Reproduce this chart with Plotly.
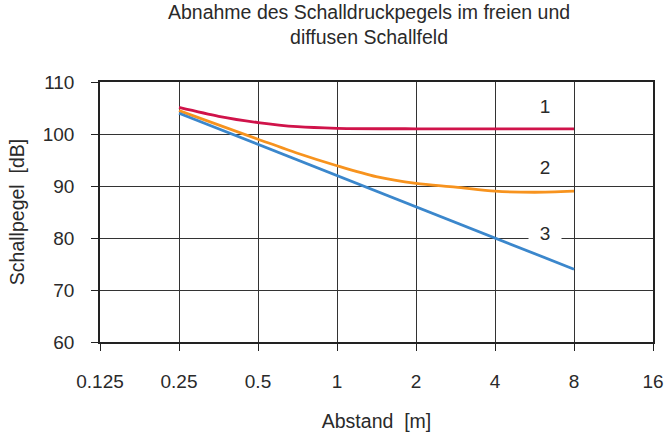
import plotly.graph_objects as go
import math

# Data
x1 = [0.25, 0.354, 0.5, 0.707, 1, 2, 4, 8]
y1 = [105.1, 103.4, 102.2, 101.4, 101.1, 101.0, 101.0, 101.0]

x2 = [0.25, 0.5, 0.707, 1, 1.41, 2, 2.83, 4, 5.66, 8]
y2 = [104.5, 99.0, 96.3, 93.9, 91.8, 90.5, 89.8, 89.0, 88.8, 89.0]

x3 = [0.25, 0.5, 1, 2, 4, 8]
y3 = [104, 98, 92, 86, 80, 74]

x_ticks = [0.125, 0.25, 0.5, 1, 2, 4, 8, 16]
x_ticktext = ["0.125", "0.25", "0.5", "1", "2", "4", "8", "16"]
y_ticks = [60, 70, 80, 90, 100, 110]

curve_labels = ["1", "2", "3"]
label_x = [6.2, 6.2, 6.2]
label_y = [105.2, 93.6, 80.8]

colors = ["#D0134A", "#F7931E", "#3B87CC"]

FONT = "Liberation Sans, Arial, sans-serif"
TXT = "#2a2a2a"

fig = go.Figure()
fig.add_trace(go.Scatter(x=x1, y=y1, mode="lines",
                         line=dict(color=colors[0], width=2.8, shape="spline", smoothing=0.8)))
fig.add_trace(go.Scatter(x=x2, y=y2, mode="lines",
                         line=dict(color=colors[1], width=2.8, shape="spline", smoothing=0.8)))
fig.add_trace(go.Scatter(x=x3, y=y3, mode="lines",
                         line=dict(color=colors[2], width=2.8)))

for i, t in enumerate(curve_labels):
    fig.add_annotation(x=math.log10(label_x[i]), y=label_y[i], text=t, showarrow=False,
                       font=dict(size=19, color=TXT, family=FONT),
                       bgcolor="white" if i == 2 else "rgba(0,0,0,0)",
                       width=30, xanchor="center", yanchor="middle")

fig.update_layout(
    width=665, height=432,
    margin=dict(l=100, r=12, t=82, b=90),
    paper_bgcolor="white", plot_bgcolor="white",
    showlegend=False,
    font=dict(family=FONT, size=19, color=TXT),
    title=dict(text="Abnahme des Schalldruckpegels im freien und<br>diffusen Schallfeld",
               x=0.555, xanchor="center", y=0.957, yanchor="top",
               font=dict(size=19.5, family=FONT, color=TXT)),
)

fig.update_xaxes(type="log", range=[math.log10(0.125), math.log10(16)],
                 tickvals=x_ticks, ticktext=x_ticktext, automargin=False,
                 showgrid=True, gridcolor="#333", gridwidth=1,
                 showline=True, linecolor="#222", linewidth=1.5, mirror=True,
                 ticks="outside", ticklen=7, tickcolor="#222", ticklabelstandoff=14,
                 zeroline=False,
                 title=dict(text="Abstand  [m]", standoff=24, font=dict(size=19.5)))
fig.update_yaxes(range=[60, 110], tickvals=y_ticks, automargin=False,
                 showgrid=True, gridcolor="#333", gridwidth=1,
                 showline=True, linecolor="#222", linewidth=1.5, mirror=True,
                 ticks="outside", ticklen=7, tickcolor="#222", ticklabelstandoff=13,
                 zeroline=False,
                 title=dict(text="Schallpegel  [dB]", standoff=13, font=dict(size=19.5)))

# remove the default page margin so the figure fills the 665x432 window exactly
fig.write_html("out.html",
               config={"displayModeBar": False},
               post_script="document.body.style.margin='0';document.documentElement.style.overflow='hidden';")
